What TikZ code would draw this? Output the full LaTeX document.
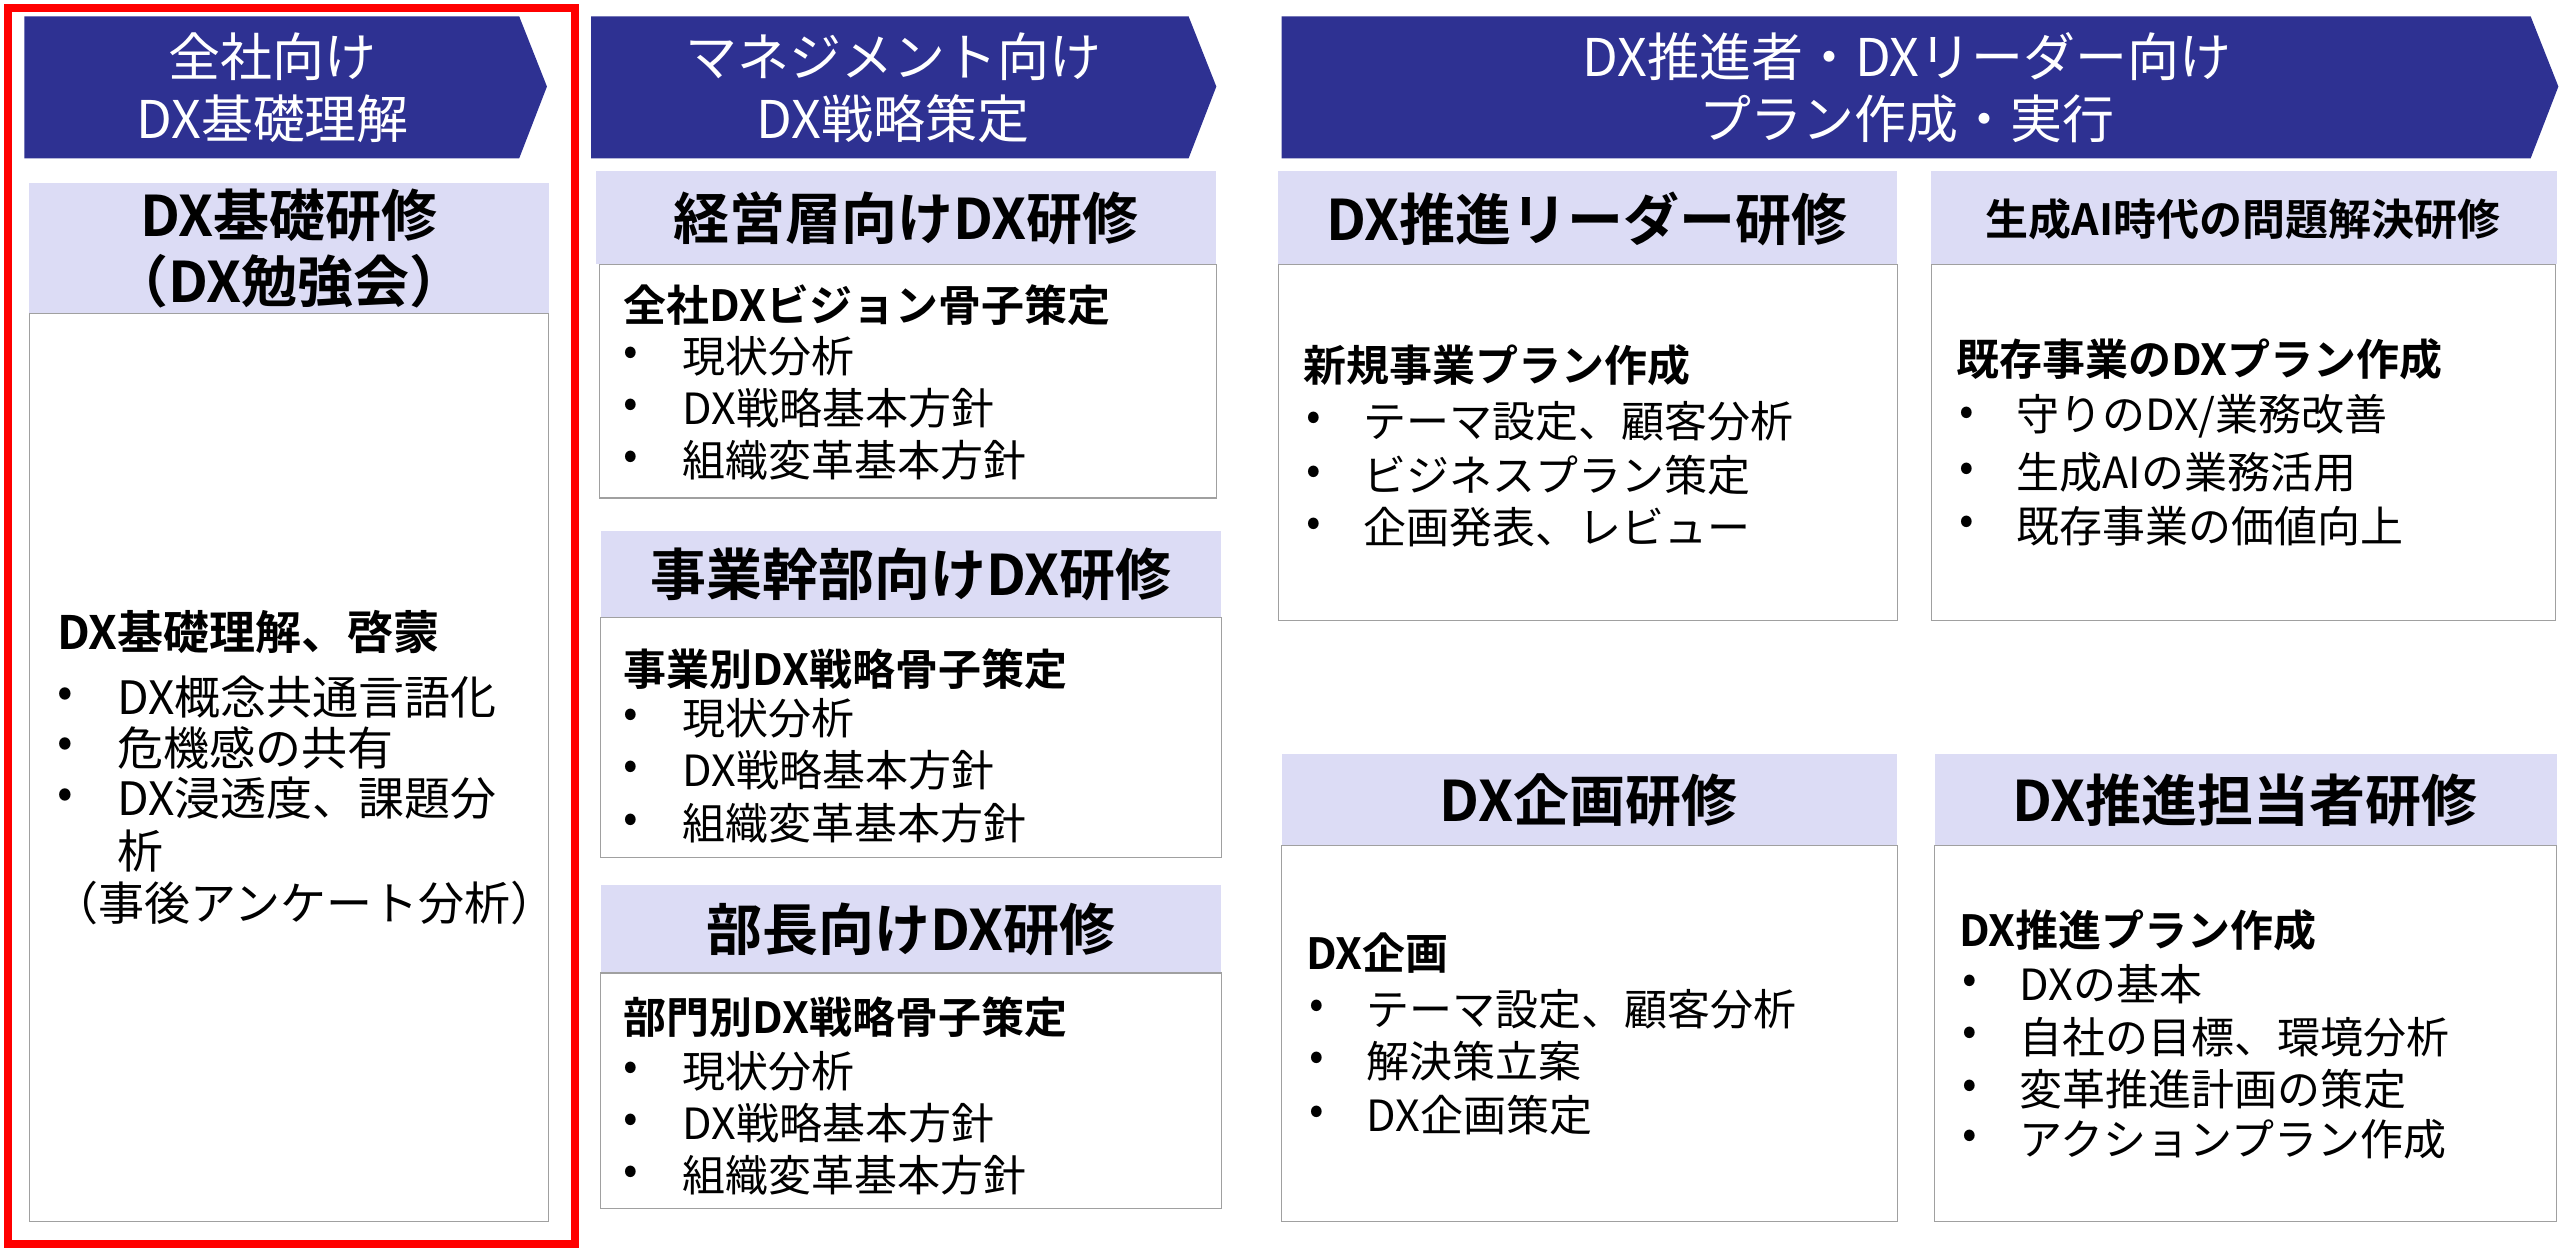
\documentclass[tikz,border=0pt]{standalone}
\usepackage{fontspec}
\setmainfont{Noto Sans CJK JP}[BoldFont={Noto Sans CJK JP Bold}]
\definecolor{navy}{RGB}{46,49,146}
\definecolor{lav}{RGB}{220,220,245}
\definecolor{bord}{RGB}{160,160,160}
\begin{document}
\begin{tikzpicture}[x=1.633pt,y=-1.633pt,
  hdr/.style={fill=navy},
  hdrtext/.style={text=white,align=center,font=\fontsize{52}{62}\selectfont},
  ttl/.style={fill=lav},
  box/.style={draw=bord,line width=1.2pt,fill=white},
  ttltext/.style={font=\bfseries\fontsize{56}{66}\selectfont,align=center},
  body/.style={anchor=west,font=\fontsize{43}{50}\selectfont,inner sep=0},
  bodyb/.style={anchor=west,font=\bfseries\fontsize{43}{50}\selectfont,inner sep=0},
  big/.style={anchor=west,font=\fontsize{46}{54}\selectfont,inner sep=0},
  bigb/.style={anchor=west,font=\bfseries\fontsize{46}{54}\selectfont,inner sep=0}]
\useasboundingbox (0,0) rectangle (1568,766);
\fill[white] (0,0) rectangle (1568,766);
% headers
\fill[hdr] (15,10) -- (318,10) -- (335,53) -- (318,97) -- (15,97) -- cycle;
\node[hdrtext] (h1) at (167,54) {全社向け\\DX基礎理解};
\fill[hdr] (362,10) -- (728,10) -- (745,53) -- (728,97) -- (362,97) -- cycle;
\node[hdrtext] (h2) at (547,54) {マネジメント向け\\DX戦略策定};
\fill[hdr] (785,10) -- (1550,10) -- (1567,53) -- (1550,97) -- (785,97) -- cycle;
\node[hdrtext] (h3) at (1168,54) {DX推進者・DXリーダー向け\\プラン作成・実行};
% col1
\fill[ttl] (18,112) rectangle (336,192);
\node[ttltext] (t1) at (177,152) {DX基礎研修\\（DX勉強会）};
\draw[box] (18,192) rectangle (336,748);
\node[bigb] (c1a) at (35,387) {DX基礎理解、啓蒙};
\node[big] at (35,427) {•}; \node[big] at (72,427) {DX概念共通言語化};
\node[big] at (35,458) {•}; \node[big] at (72,458) {危機感の共有};
\node[big] at (35,489) {•}; \node[big] at (72,489) {DX浸透度、課題分};
\node[big] at (72,521) {析};
\node[big] at (32,553) {（事後アンケート分析）};
\draw[red,line width=8pt] (5,5) rectangle (352,762);
% col2
\fill[ttl] (365,105) rectangle (745,162);
\node[ttltext] at (555,134) {経営層向けDX研修};
\draw[box] (367,162) rectangle (745,305);
\node[bodyb] at (382,187) {全社DXビジョン骨子策定};
\node[body] at (382,218) {•}; \node[body] at (418,218) {現状分析};
\node[body] at (382,250) {•}; \node[body] at (418,250) {DX戦略基本方針};
\node[body] at (382,282) {•}; \node[body] at (418,282) {組織変革基本方針};
\fill[ttl] (368,325) rectangle (748,378);
\node[ttltext] at (558,352) {事業幹部向けDX研修};
\draw[box] (368,378) rectangle (748,525);
\node[bodyb] at (382,410) {事業別DX戦略骨子策定};
\node[body] at (382,440) {•}; \node[body] at (418,440) {現状分析};
\node[body] at (382,472) {•}; \node[body] at (418,472) {DX戦略基本方針};
\node[body] at (382,504) {•}; \node[body] at (418,504) {組織変革基本方針};
\fill[ttl] (368,542) rectangle (748,596);
\node[ttltext] at (558,569) {部長向けDX研修};
\draw[box] (368,596) rectangle (748,740);
\node[bodyb] at (382,623) {部門別DX戦略骨子策定};
\node[body] at (382,656) {•}; \node[body] at (418,656) {現状分析};
\node[body] at (382,688) {•}; \node[body] at (418,688) {DX戦略基本方針};
\node[body] at (382,720) {•}; \node[body] at (418,720) {組織変革基本方針};
% col3
\fill[ttl] (783,105) rectangle (1162,162);
\node[ttltext] at (972,134) {DX推進リーダー研修};
\draw[box] (783,162) rectangle (1162,380);
\node[bodyb] at (798,224) {新規事業プラン作成};
\node[body] at (800,258) {•}; \node[body] at (835,258) {テーマ設定、顧客分析};
\node[body] at (800,291) {•}; \node[body] at (835,291) {ビジネスプラン策定};
\node[body] at (800,323) {•}; \node[body] at (835,323) {企画発表、レビュー};
\fill[ttl] (1183,105) rectangle (1566,162);
\node[font=\bfseries\fontsize{43}{50}\selectfont] at (1374,134) {生成AI時代の問題解決研修};
\draw[box] (1183,162) rectangle (1565,380);
\node[bodyb] at (1198,220) {既存事業のDXプラン作成};
\node[body] at (1200,255) {•}; \node[body] at (1235,255) {守りのDX/業務改善};
\node[body] at (1200,289) {•}; \node[body] at (1235,289) {生成AIの業務活用};
\node[body] at (1200,322) {•}; \node[body] at (1235,322) {既存事業の価値向上};
\fill[ttl] (785,462) rectangle (1162,518);
\node[ttltext] at (973,490) {DX企画研修};
\draw[box] (785,518) rectangle (1162,748);
\node[bodyb] at (800,584) {DX企画};
\node[body] at (802,618) {•}; \node[body] at (837,618) {テーマ設定、顧客分析};
\node[body] at (802,650) {•}; \node[body] at (837,650) {解決策立案};
\node[body] at (802,683) {•}; \node[body] at (837,683) {DX企画策定};
\fill[ttl] (1185,462) rectangle (1566,518);
\node[ttltext] at (1375,490) {DX推進担当者研修};
\draw[box] (1185,518) rectangle (1566,748);
\node[bodyb] at (1200,570) {DX推進プラン作成};
\node[body] at (1202,603) {•}; \node[body] at (1237,603) {DXの基本};
\node[body] at (1202,635) {•}; \node[body] at (1237,635) {自社の目標、環境分析};
\node[body] at (1202,667) {•}; \node[body] at (1237,667) {変革推進計画の策定};
\node[body] at (1202,698) {•}; \node[body] at (1237,698) {アクションプラン作成};
\end{tikzpicture}
\end{document}
